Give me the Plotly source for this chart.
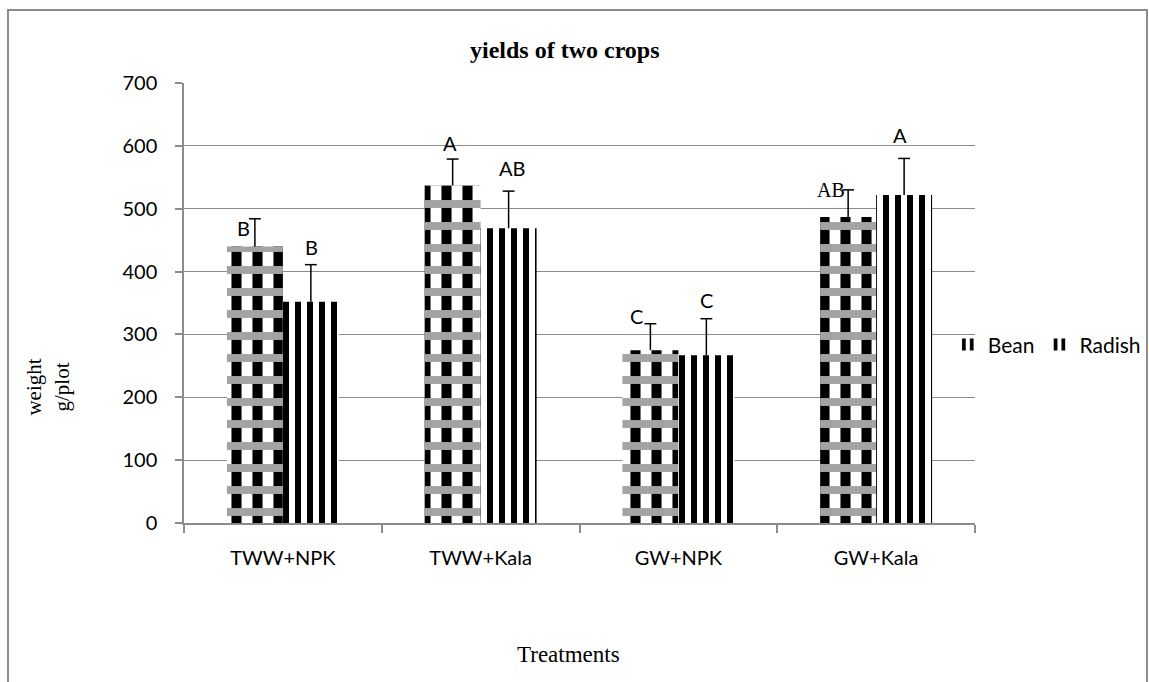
import plotly.graph_objects as go

# Treatments and mean yields (g/plot) with their standard errors
treatments = ["TWW+NPK", "TWW+Kala", "GW+NPK", "GW+Kala"]
bean = [440, 537, 275, 487]
radish = [352, 469, 267, 522]
bean_err = [44, 42, 42, 43]
radish_err = [59, 59, 58, 58]

# Significance letters: (text, category position, y value)
letter_text = ["B", "B", "A", "AB", "C", "C", "AB", "A"]
letter_x = [-0.20, 0.146, 0.843, 1.16, 1.79, 2.14, 2.77, 3.12]
letter_y = [469, 439, 605, 565, 329, 355, 530, 617]
letter_serif = [False, False, False, False, False, False, True, False]

SANS = "Lato"
SERIF = "Liberation Serif"
GRID = "#8c8c8c"

BAR_W = 0.283      # bar width in category units
CAP = 0.03         # half width of the error-bar caps
idx = list(range(len(treatments)))


def error_segments(centers, values, errors):
    """Upper-only error bars: a stem from the bar top plus a cap."""
    xs, ys = [], []
    for c, v, e in zip(centers, values, errors):
        xs += [c, c, None, c - CAP, c + CAP, None]
        ys += [v, v + e, None, v + e, v + e, None]
    return xs, ys


fig = go.Figure()

# Bean: black vertical blocks underneath ...
fig.add_trace(go.Bar(
    x=idx, y=bean, name="Bean", width=BAR_W, offset=-BAR_W,
    marker=dict(color="white", line=dict(width=0),
                pattern=dict(shape="|", size=21, solidity=0.48,
                             fgcolor="black", bgcolor="white", fillmode="replace")),
    legendgroup="bean", showlegend=True,
))
# ... crossed by grey horizontal bands
fig.add_trace(go.Bar(
    x=idx, y=bean, name="Bean", width=BAR_W, offset=-BAR_W,
    marker=dict(color="rgba(0,0,0,0)", line=dict(width=0),
                pattern=dict(shape="-", size=22, solidity=0.36,
                             fgcolor="#a3a3a3", bgcolor="rgba(0,0,0,0)", fillmode="replace")),
    legendgroup="bean", showlegend=False, hoverinfo="skip",
))
# Radish: narrow vertical stripes
fig.add_trace(go.Bar(
    x=idx, y=radish, name="Radish", width=BAR_W, offset=0,
    marker=dict(color="white", line=dict(width=0),
                pattern=dict(shape="|", size=12, solidity=0.5,
                             fgcolor="black", bgcolor="white", fillmode="replace")),
))

# Error bars
for centers, vals, errs in [
    ([i - BAR_W / 2 for i in idx], bean, bean_err),
    ([i + BAR_W / 2 for i in idx], radish, radish_err),
]:
    ex, ey = error_segments(centers, vals, errs)
    fig.add_trace(go.Scatter(x=ex, y=ey, mode="lines",
                             line=dict(color="black", width=1.5),
                             showlegend=False, hoverinfo="skip"))

annotations = []
for t, xv, yv, serif in zip(letter_text, letter_x, letter_y, letter_serif):
    annotations.append(dict(
        x=xv, y=yv, xref="x", yref="y", text=t, showarrow=False,
        xanchor="center", yanchor="middle",
        font=dict(family=SERIF if serif else SANS, size=20, color="black"),
    ))

annotations += [
    dict(text="<b>yields of two crops</b>", x=0.4817, y=1.075, xref="paper", yref="paper",
         xanchor="center", yanchor="middle", showarrow=False,
         font=dict(family=SERIF, size=24, color="black")),
    dict(text="weight<br>g/plot", x=-0.172, y=0.31, xref="paper", yref="paper",
         xanchor="center", yanchor="middle", textangle=-90, showarrow=False,
         font=dict(family=SERIF, size=21, color="black")),
    dict(text="Treatments", x=0.4855, y=-0.298, xref="paper", yref="paper",
         xanchor="center", yanchor="middle", showarrow=False,
         font=dict(family=SERIF, size=23, color="black")),
]

fig.update_layout(
    width=1149, height=682,
    margin=dict(l=184, r=174, t=83, b=159, autoexpand=False),
    paper_bgcolor="white", plot_bgcolor="white",
    barmode="overlay",
    annotations=annotations,
    showlegend=True,
    legend=dict(orientation="h", x=0.9656, y=0.405, xanchor="left", yanchor="middle",
                font=dict(family=SANS, size=21, color="black"),
                bgcolor="rgba(0,0,0,0)", itemwidth=30, tracegroupgap=0),
    shapes=[dict(type="rect", xref="paper", yref="paper",
                 x0=-0.2225, x1=1.2174, y0=-0.45, y1=1.166,
                 line=dict(color=GRID, width=2), fillcolor="rgba(0,0,0,0)", layer="below")],
)

fig.update_xaxes(
    tickmode="array", tickvals=idx, ticktext=treatments,
    range=[-0.5, 3.5],
    showline=True, linecolor=GRID, linewidth=1.5,
    ticks="", showgrid=False, zeroline=False,
    tickfont=dict(family=SANS, size=20, color="black"),
    ticklabelstandoff=16,
    # tick marks on the category boundaries
    minor=dict(tickmode="array", tickvals=[i - 0.5 for i in range(len(treatments) + 1)],
               ticks="outside", ticklen=8, tickcolor=GRID, tickwidth=1.5, showgrid=False),
)

fig.update_yaxes(
    range=[0, 700], dtick=100,
    showline=True, linecolor=GRID, linewidth=1.5,
    ticks="outside", ticklen=7, tickcolor=GRID, tickwidth=1.5,
    showgrid=True, gridcolor=GRID, gridwidth=1.3, zeroline=False,
    tickfont=dict(family=SANS, size=20, color="black"),
    ticklabelstandoff=14,
)

fig.write_html("out.html")
